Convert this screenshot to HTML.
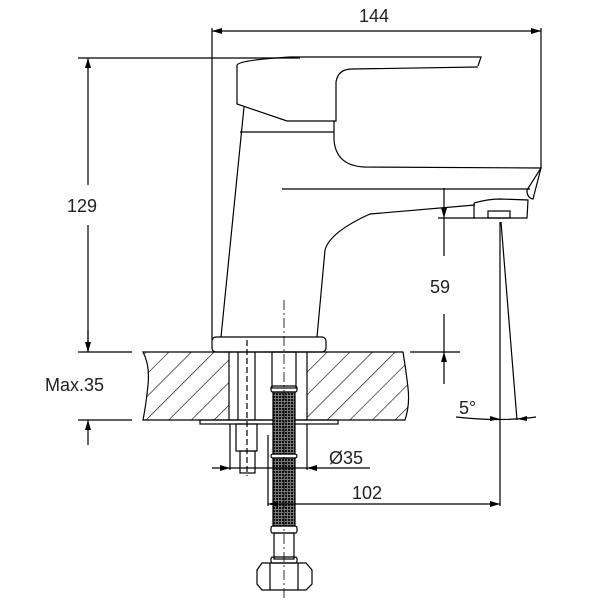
<!DOCTYPE html>
<html><head><meta charset="utf-8"><style>html,body{margin:0;padding:0;background:#fff}svg{display:block}</style></head>
<body>
<svg width="600" height="600" viewBox="0 0 600 600" xmlns="http://www.w3.org/2000/svg" font-family="Liberation Sans, sans-serif">
<defs>
<pattern id="h" width="16" height="16" patternUnits="userSpaceOnUse" patternTransform="rotate(45)">
<line x1="0" y1="0" x2="0" y2="16" stroke="#000" stroke-width="1.2"/></pattern>
<pattern id="m" width="3" height="3" patternUnits="userSpaceOnUse">
<rect width="3" height="3" fill="#777"/><rect width="2" height="2" fill="#111"/></pattern>
</defs>
<g fill="none" stroke="#000" stroke-width="1.2">
<line x1="212" y1="28" x2="212" y2="340"/>
<line x1="541" y1="28" x2="541" y2="168"/>
<line x1="212" y1="31" x2="541" y2="31"/>
<line x1="78" y1="58" x2="300" y2="58"/>
<line x1="78" y1="352" x2="132" y2="352"/>
<line x1="88" y1="58" x2="88" y2="185"/>
<line x1="88" y1="225" x2="88" y2="352"/>
<line x1="78" y1="420" x2="132" y2="420"/>
<line x1="88" y1="330" x2="88" y2="352"/>
<line x1="88" y1="420" x2="88" y2="445"/>
<path d="M237,65 L237,104 L287,121 L336,121 L336,82 Q338,69 352,69 L478,67"/>
<path d="M237,65 Q240,60 290,57 L481,57 L478,66"/>
<path d="M240,132 L334,132"/>
<path d="M244,107 L221,337"/>
<path d="M334,121 L334,140 Q336,166 365,167 L541,168 L527,190 Q527,198 533,199 L541,168"/>
<path d="M475,205 L370,214 Q330,232 325,250 L317,337"/>
<path d="M474,203 L474,218 L527,218 L528,200 L500,199 Q488,199 474,203"/>
<rect x="488" y="211" width="22" height="7"/>
<line x1="282" y1="189" x2="530" y2="189"/>
<line x1="438" y1="218" x2="475" y2="218"/>
<line x1="444" y1="188" x2="444" y2="256"/>
<line x1="444" y1="314" x2="444" y2="384"/>
<line x1="410" y1="352" x2="460" y2="352"/>
<rect x="212" y="337" width="114" height="15" rx="4"/>
<path d="M143,352 Q150,365 148,385 Q146,405 143,420 L229,420 L229,352 Z" fill="url(#h)"/>
<path d="M307,352 L403,352 Q406,370 408,388 Q410,405 405,420 L307,420 Z" fill="url(#h)"/>
<line x1="229" y1="352" x2="307" y2="352"/>
<line x1="229" y1="420" x2="307" y2="420"/>
<line x1="238" y1="352" x2="238" y2="420"/>
<line x1="255" y1="352" x2="255" y2="420"/>
<rect x="200" y="420" width="138" height="4"/>
<rect x="236" y="424" width="21" height="27"/>
<rect x="240" y="451" width="15" height="22"/>
<line x1="247" y1="340" x2="247" y2="476" stroke-dasharray="6,3"/>
<rect x="272" y="352" width="24" height="36"/>
<rect x="271" y="386" width="26" height="6" rx="2"/>
<rect x="273" y="392" width="22" height="62" fill="url(#m)"/>
<rect x="271" y="454" width="26" height="4" rx="2"/>
<rect x="273" y="458" width="22" height="68" fill="url(#m)"/>
<rect x="271" y="526" width="26" height="7" rx="2"/>
<rect x="274" y="533" width="20" height="26"/>
<rect x="271" y="557" width="26" height="6" rx="2"/>
<path d="M262,563 L306,563 L312,570 L312,584 L306,590 L262,590 L257,584 L257,570 Z"/>
<line x1="270" y1="563" x2="270" y2="590"/><line x1="298" y1="563" x2="298" y2="590"/>
<line x1="284" y1="300" x2="284" y2="598" stroke-dasharray="10,3,2,3" stroke-width="0.8"/>
<line x1="230" y1="424" x2="230" y2="470"/>
<line x1="307" y1="424" x2="307" y2="470"/>
<line x1="212" y1="468" x2="370" y2="468"/>
<line x1="268" y1="435" x2="268" y2="506"/>
<line x1="268" y1="504" x2="500" y2="504"/>
<line x1="500" y1="222" x2="500" y2="506"/>
<line x1="501" y1="222" x2="517" y2="420"/>
<path d="M456,417 Q500,422 536,417"/>
</g>
<g fill="#000">
<path d="M212,31 l10,-3 v6z"/><path d="M541,31 l-10,-3 v6z"/>
<path d="M88,58 l-3,10 h6z"/><path d="M88,352 l-3,-10 h6z"/>
<path d="M88,420 l-3,10 h6z"/>
<path d="M444,218 l-3,-10 h6z"/><path d="M444,352 l-3,10 h6z"/>
<path d="M230,468 l-10,-3 v6z"/><path d="M307,468 l10,-3 v6z"/>
<path d="M268,504 l10,-3 v6z"/><path d="M500,504 l-10,-3 v6z"/>
<path d="M500,419 l-10,-3 v5z"/><path d="M517,419 l10,-3 v5z"/>
</g>
<g font-size="18" fill="#222">
<text x="359" y="22">144</text>
<text x="67" y="212">129</text>
<text x="430" y="293">59</text>
<text x="45" y="391">Max.35</text>
<text x="459" y="414">5°</text>
<text x="329" y="464">Ø35</text>
<text x="352" y="499">102</text>
</g>
</svg>
</body></html>
